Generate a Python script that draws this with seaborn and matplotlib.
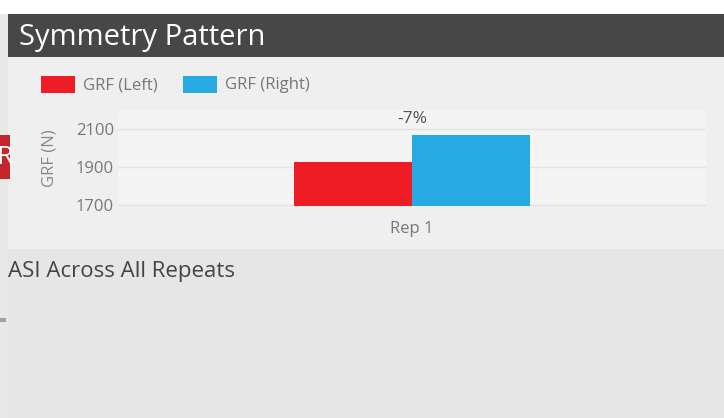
import pandas as pd
import seaborn as sns
import matplotlib.pyplot as plt
from matplotlib.patches import Rectangle

# chart values
reps = ['Rep 1']
grf_left = [1930]
grf_right = [2070]
asi_labels = ['-7%']
sides = ['GRF (Left)', 'GRF (Right)']
colors = ['#ee1c25', '#27aae1']

df = pd.DataFrame({
    'rep': reps * 2,
    'grf': grf_left + grf_right,
    'side': [sides[0]] * len(reps) + [sides[1]] * len(reps),
})

sns.set_theme(style='white')
plt.rcParams['font.family'] = ['Open Sans', 'DejaVu Sans']

W, H = 724, 418
fig = plt.figure(figsize=(W / 100, H / 100), dpi=100)
fig.patch.set_facecolor('white')

def box(x0, y0, x1, y1, color):
    # rectangle in pixel coords measured from the top left
    fig.patches.append(Rectangle((x0 / W, 1 - y1 / H), (x1 - x0) / W, (y1 - y0) / H,
                                 transform=fig.transFigure, facecolor=color,
                                 edgecolor='none', zorder=0))

box(0, 14, 8, 418, '#e8e8e8')
box(8, 14, 724, 57, '#464746')
box(8, 57, 724, 249, '#efefef')
box(8, 249, 724, 418, '#e6e6e6')
box(0, 135, 10, 179, '#c1272d')
box(0, 318, 6, 322, '#a0a0a0')

fig.text(19 / W, 1 - 37 / H, 'Symmetry Pattern', color='white', fontsize=21,
         va='center', ha='left')
fig.text(-4 / W, 1 - 157 / H, 'R', color='white', fontsize=19, va='center', ha='left')
fig.text(8 / W, 1 - 271 / H, 'ASI Across All Repeats', color='#444444', fontsize=16,
         va='center', ha='left')

# legend drawn by hand to match the spacing
for (x0, label, c) in [(41, sides[0], colors[0]), (183, sides[1], colors[1])]:
    box(x0, 76, x0 + 34, 93, c)
    fig.text((x0 + 42) / W, 1 - 85 / H, label, color='#777777', fontsize=12,
             va='center', ha='left')

ax = fig.add_axes([118 / W, 1 - 205.5 / H, 588 / W, 95.5 / H], zorder=2)
ax.set_facecolor('#f4f4f4')
sns.barplot(data=df, x='rep', y='grf', hue='side', palette=colors, width=0.4,
            saturation=1, ax=ax, legend=False, zorder=3, linewidth=0)
ax.set_ylim(1700, 2200)
ax.set_yticks([1700, 1900, 2100])
ax.yaxis.grid(True, color='#e2e2e2', linewidth=1, zorder=0)
ax.set_axisbelow(True)
for s in ax.spines.values():
    s.set_visible(False)
ax.tick_params(axis='both', length=0, colors='#777777', labelsize=12)
ax.tick_params(axis='x', pad=11)
ax.tick_params(axis='y', pad=3)
ax.set_xlabel('')
ax.set_ylabel('GRF (N)', color='#888888', fontsize=12)
ax.yaxis.set_label_coords(-60 / 588, 0.5)

for i, lab in enumerate(asi_labels):
    ax.text(i, 2155, lab, color='#555555', fontsize=12.5, ha='center', va='center',
            transform=ax.transData)

fig.savefig('out.png', dpi=100)
